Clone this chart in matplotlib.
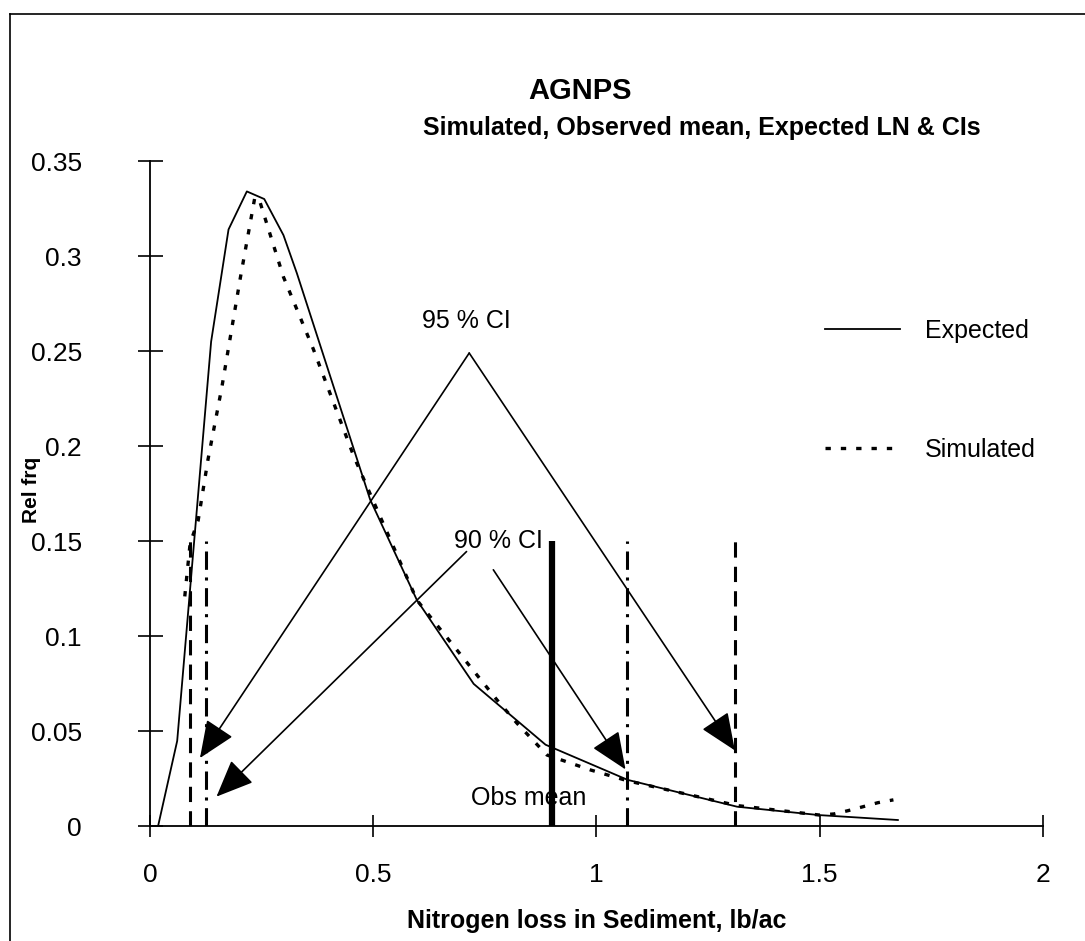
import matplotlib
matplotlib.use("Agg")
import matplotlib.pyplot as plt
from matplotlib.lines import Line2D

# Expected lognormal relative frequency (solid)
expected_x = [0.018, 0.061, 0.137, 0.176, 0.217, 0.256, 0.299, 0.329, 0.493,
              0.598, 0.725, 0.886, 1.07, 1.315, 1.498, 1.675]
expected_y = [0.0, 0.045, 0.255, 0.314, 0.334, 0.330, 0.311, 0.291, 0.172,
              0.119, 0.075, 0.043, 0.0245, 0.0104, 0.006, 0.0034]

# Simulated relative frequency (dotted)
simulated_x = [0.078, 0.09, 0.108, 0.13, 0.161, 0.202, 0.235, 0.247, 0.299,
               0.366, 0.456, 0.493, 0.598, 0.777, 0.822, 0.889, 0.987, 1.07,
               1.315, 1.5, 1.532, 1.563, 1.597, 1.63, 1.665]
simulated_y = [0.121, 0.149, 0.161, 0.193, 0.231, 0.288, 0.331, 0.328, 0.289,
               0.251, 0.195, 0.175, 0.119, 0.0666, 0.0543, 0.0376, 0.0297,
               0.024, 0.011, 0.006, 0.0066, 0.0083, 0.0104, 0.0125, 0.014]

# Confidence limits and observed mean
ci95 = [0.09, 1.31]
ci90 = [0.125, 1.068]
obs_mean = 0.90
marker_height = 0.15

# Label anchors and arrow tips
ci95_apex = (0.715, 0.249)
ci95_tips = [(0.112, 0.036), (1.31, 0.040)]
ci90_starts = [(0.709, 0.1446), (0.769, 0.135)]
ci90_tips = [(0.149, 0.0157), (1.065, 0.030)]

x_ticks = [0, 0.5, 1, 1.5, 2]
x_tick_labels = ["0", "0.5", "1", "1.5", "2"]
y_ticks = [0, 0.05, 0.1, 0.15, 0.2, 0.25, 0.3, 0.35]
y_tick_labels = ["0", "0.05", "0.1", "0.15", "0.2", "0.25", "0.3", "0.35"]

plain = ["Liberation Sans", "DejaVu Sans"]
narrow = ["Liberation Sans Narrow", "Liberation Sans", "DejaVu Sans"]

fig = plt.figure(figsize=(10.85, 9.41), dpi=100)
ax = fig.add_axes([0.1382, 0.1217, 0.8231, 0.7072])

ax.plot(expected_x, expected_y, color="k", lw=1.3, label="Expected")
ax.plot(simulated_x, simulated_y, color="k", lw=2.4, ls=(0, (1.6, 3.0)),
        label="Simulated")

# vertical markers for the CIs and the observed mean
for x in ci95:
    ax.plot([x, x], [0, marker_height], color="k", lw=2.2, ls=(0, (5, 3)))
for x in ci90:
    ax.plot([x, x], [0, marker_height], color="k", lw=2.2,
            ls=(0, (6, 2.5, 1, 2.5)))
ax.plot([obs_mean, obs_mean], [0, marker_height], color="k", lw=4.5,
        solid_capstyle="butt")

arrow = dict(arrowstyle="-|>,head_length=1.3,head_width=0.55", color="k",
             lw=1.2, mutation_scale=18, shrinkA=0, shrinkB=0)
for tip in ci95_tips:
    ax.annotate("", xy=tip, xytext=ci95_apex, arrowprops=arrow)
for start, tip in zip(ci90_starts, ci90_tips):
    ax.annotate("", xy=tip, xytext=start, arrowprops=arrow)

ax.text(0.709, 0.2657, "95 % CI", ha="center", va="center", fontsize=18,
        family=plain)
ax.text(0.78, 0.150, "90 % CI", ha="center", va="center", fontsize=18,
        family=plain, zorder=1)
ax.text(0.848, 0.0150, "Obs mean", ha="center", va="center", fontsize=18,
        family=plain, zorder=1)

ax.set_xlim(0, 2)
ax.set_ylim(0, 0.35)
ax.set_xticks(x_ticks)
ax.set_xticklabels(x_tick_labels, family=plain, fontsize=19)
ax.set_yticks(y_ticks)
ax.set_yticklabels(y_tick_labels, family=plain, fontsize=19)
ax.tick_params(axis="x", direction="inout", length=16, width=1.2, pad=18)
ax.tick_params(axis="y", direction="inout", length=18, width=1.2, pad=40)
for side in ("top", "right"):
    ax.spines[side].set_visible(False)
for side in ("left", "bottom"):
    ax.spines[side].set_linewidth(1.3)
ax.spines["bottom"].set_zorder(0)

ax.set_xlabel("Nitrogen loss in Sediment, lb/ac", family=narrow,
              fontweight="bold", fontsize=18, labelpad=16)
ax.set_ylabel("Rel frq", family=narrow, fontweight="bold", fontsize=15)
ax.yaxis.set_label_coords(-0.122, 0.506)

ax.legend(loc="upper left", bbox_to_anchor=(0.756, 0.763), frameon=False,
          prop={"family": plain, "size": 18}, handlelength=3.0,
          handletextpad=1.0, labelspacing=3.8, borderpad=0,
          borderaxespad=0)

fig.text(0.535, 0.903, "AGNPS", ha="center", va="center", family=narrow,
         fontweight="bold", fontsize=21)
fig.text(0.647, 0.864, "Simulated, Observed mean, Expected LN & CIs",
         ha="center", va="center", family=narrow, fontweight="bold",
         fontsize=18)

# chart-area frame
fig.add_artist(Line2D([10 / 1085, 10 / 1085], [0, 1 - 14 / 941],
                      transform=fig.transFigure, color="k", lw=1.2))
fig.add_artist(Line2D([10 / 1085, 1], [1 - 14 / 941, 1 - 14 / 941],
                      transform=fig.transFigure, color="k", lw=1.2))

fig.savefig("out.png", dpi=100)
